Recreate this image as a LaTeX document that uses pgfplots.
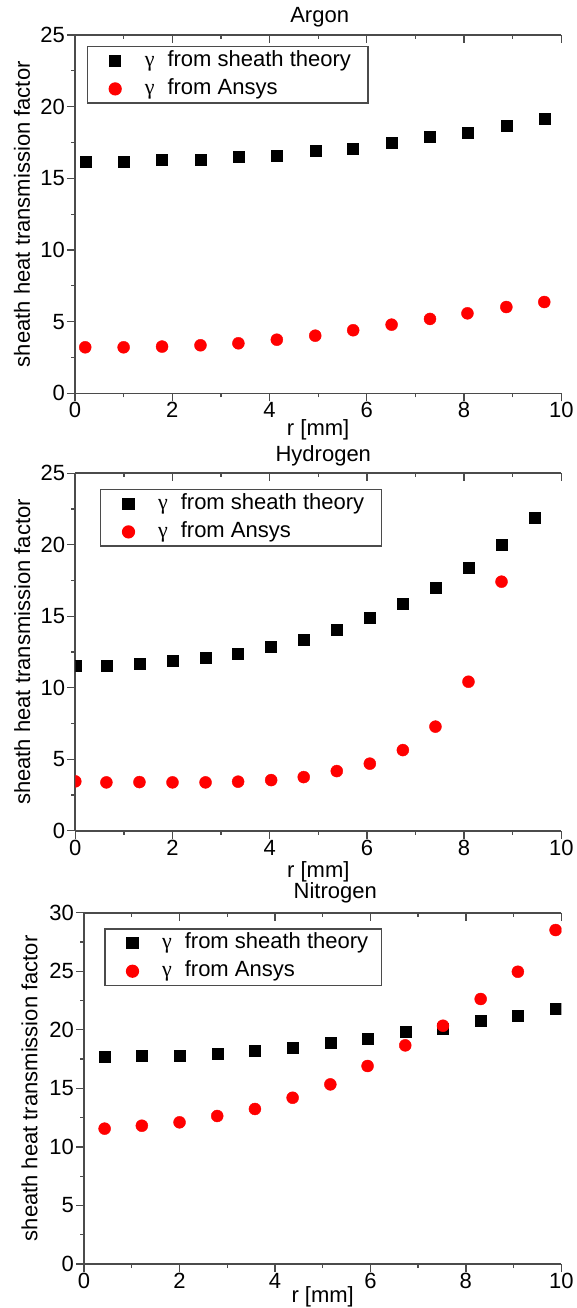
\documentclass[border=0pt]{standalone}
\usepackage{fontspec}
\setmainfont{Liberation Sans}
\newfontfamily\gfont{Liberation Serif}
\usepackage{pgfplots}
\pgfplotsset{compat=1.18}

\definecolor{axisgray}{RGB}{75,75,75}
\definecolor{ansysred}{RGB}{255,0,0}

\newcommand{\bigfont}{\fontsize{22}{22}\selectfont}

\pgfplotsset{
  every axis title shift=0pt,
  gasbase/.style={
    scale only axis,
    xmin=0, xmax=10, ymin=0,
    axis x line*=bottom, axis y line*=left,
    tick align=outside,
    xtick={0,2,...,10},
    minor x tick num=1, minor y tick num=1,
    major tick length=8pt, minor tick length=4pt,
    every tick/.style={axisgray, line width=1.3pt},
    axis line style={axisgray, line width=1.6pt},
    tick label style={font=\bigfont},
    /pgf/number format/assume math mode=true,
    xticklabel style={inner sep=1pt},
    yticklabel style={inner sep=2pt},
    label style={font=\bigfont},
    title style={font=\bigfont},
    clip marker paths=true,
    legend style={
      at={(axis description cs:0,1)}, anchor=north west,
      draw=axisgray, line width=1.2pt,
      inner xsep=0pt, inner ysep=0pt,
      font=\bigfont,
      nodes={text height=17pt, text depth=6pt, inner ysep=2.6pt, inner xsep=0pt},
      legend cell align=left,
    },
    legend image code/.code={%
      \path (-27pt,0pt) (29pt,0pt);
      \draw[##1] plot coordinates {(0pt,0pt)};
    },
  },
  % title: baseline a fixed distance above the axis box
  gastitle/.style 2 args={
    title style={at={(axis description cs:0.5,1)}, anchor=south,
      inner sep=0pt, text depth=0pt, yshift=#1, xshift=#2},
  },
  gasxlabel/.style={
    xlabel={r [mm]},
    xlabel style={at={(axis description cs:0.5,0)}, anchor=center, yshift=#1},
  },
  % top spine with ticks pointing into the plot
  topspine/.style={
    scale only axis,
    xmin=0, xmax=10, ymin=0,
    axis x line*=top, axis y line=none,
    tick align=inside,
    xtick={0,2,...,10}, xticklabels={},
    minor x tick num=1,
    major tick length=8pt, minor tick length=4pt,
    every tick/.style={axisgray, line width=1.3pt},
    axis line style={axisgray, line width=1.6pt},
  },
  theory/.style={only marks, mark=square*, mark size=5.5pt, black, mark options={draw=black, fill=black}},
  ansys/.style={only marks, mark=*, mark size=6pt, ansysred, mark options={draw=ansysred, fill=ansysred}},
}

\newcommand{\gam}{{\gfont γ}\hspace{13pt}}

\begin{document}
\begin{tikzpicture}
\path[use as bounding box] (0pt,0pt) rectangle (576pt,-1308pt);

% ---------------- Argon ----------------
\begin{axis}[gasbase,
  at={(75pt,-35pt)}, anchor=north west,
  width=486.3pt, height=358.3pt,
  ymax=25, ytick={0,5,...,25},
  title={Argon}, gastitle={12.3pt}{1.5pt},
  gasxlabel=-37pt,
  ylabel={sheath heat transmission factor},
  ylabel style={at={(axis description cs:-0.109,0.5)}, anchor=center},
  legend style={xshift=12pt, yshift=-11pt},
]
\addplot[theory] coordinates {
  (0.21,16.16) (1.00,16.16) (1.79,16.28) (2.58,16.28) (3.36,16.49)
  (4.15,16.60) (4.94,16.91) (5.72,17.09) (6.51,17.49) (7.30,17.91)
  (8.07,18.19) (8.87,18.67) (9.65,19.19)
};
\addlegendentry{\gam from sheath theory\kern17pt}
\addplot[ansys] coordinates {
  (0.21,3.21) (1.00,3.21) (1.79,3.26) (2.58,3.35) (3.36,3.49)
  (4.15,3.74) (4.94,4.02) (5.72,4.40) (6.51,4.79) (7.30,5.19)
  (8.07,5.58) (8.87,6.02) (9.65,6.37)
};
\addlegendentry{\gam from Ansys}
\end{axis}
\begin{axis}[topspine, at={(75pt,-35pt)}, anchor=north west,
  width=486.3pt, height=358.3pt, ymax=25]
\end{axis}

% ---------------- Hydrogen ----------------
\begin{axis}[gasbase,
  at={(75.3pt,-473.3pt)}, anchor=north west,
  width=486pt, height=357.4pt,
  ymax=25, ytick={0,5,...,25},
  title={Hydrogen}, gastitle={11.6pt}{5pt},
  gasxlabel=-41pt,
  ylabel={sheath heat transmission factor},
  ylabel style={at={(axis description cs:-0.109,0.5)}, anchor=center},
  legend style={xshift=25pt, yshift=-15.7pt},
]
\addplot[theory] coordinates {
  (0.00,11.57) (0.64,11.57) (1.32,11.69) (2.00,11.89) (2.68,12.08)
  (3.35,12.41) (4.03,12.87) (4.70,13.39) (5.38,14.09) (6.06,14.88)
  (6.74,15.88) (7.41,16.98) (8.09,18.40) (8.77,19.99) (9.45,21.90)
};
\addlegendentry{\gam from sheath theory\kern17pt}
\addplot[ansys] coordinates {
  (0.00,3.45) (0.64,3.38) (1.32,3.40) (2.00,3.38) (2.68,3.38)
  (3.35,3.43) (4.03,3.54) (4.70,3.75) (5.38,4.17) (6.06,4.69)
  (6.74,5.64) (7.41,7.28) (8.09,10.42) (8.77,17.42)
};
\addlegendentry{\gam from Ansys}
\end{axis}
\begin{axis}[topspine, at={(75.3pt,-473.3pt)}, anchor=north west,
  width=486pt, height=357.4pt, ymax=25]
\end{axis}

% ---------------- Nitrogen ----------------
\begin{axis}[gasbase,
  at={(84.1pt,-912.7pt)}, anchor=north west,
  width=477.2pt, height=351.3pt,
  ymax=30, ytick={0,5,...,30},
  title={Nitrogen}, gastitle={13.7pt}{12.5pt},
  gasxlabel=-33pt,
  ylabel={sheath heat transmission factor},
  ylabel style={at={(axis description cs:-0.1146,0.5)}, anchor=center},
  legend style={xshift=20.2pt, yshift=-15.6pt},
]
\addplot[theory] coordinates {
  (0.43,17.68) (1.21,17.79) (2.00,17.79) (2.79,17.99) (3.58,18.19)
  (4.37,18.47) (5.16,18.90) (5.94,19.27) (6.73,19.81) (7.52,20.12)
  (8.31,20.78) (9.09,21.21) (9.88,21.80)
};
\addlegendentry{\gam from sheath theory\kern13pt}
\addplot[ansys] coordinates {
  (0.43,11.56) (1.21,11.81) (2.00,12.10) (2.79,12.64) (3.58,13.24)
  (4.37,14.20) (5.16,15.34) (5.94,16.91) (6.73,18.67) (7.52,20.35)
  (8.31,22.63) (9.09,24.96) (9.88,28.52)
};
\addlegendentry{\gam from Ansys}
\end{axis}
\begin{axis}[topspine, at={(84.1pt,-912.7pt)}, anchor=north west,
  width=477.2pt, height=351.3pt, ymax=30]
\end{axis}
\end{tikzpicture}
\end{document}
